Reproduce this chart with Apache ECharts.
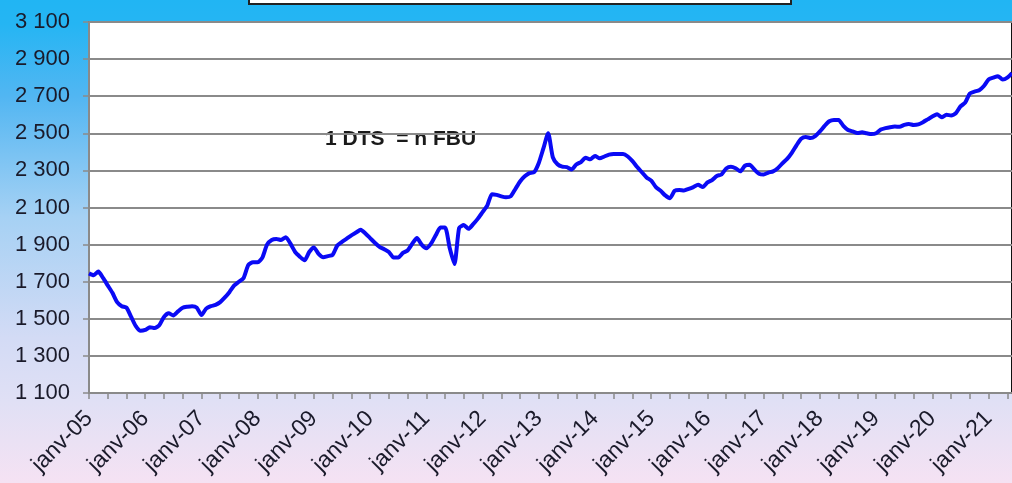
<!DOCTYPE html>
<html>
<head>
<meta charset="utf-8">
<script src="https://cdn.jsdelivr.net/npm/echarts@6/dist/echarts.min.js"></script>
<style>html,body{margin:0;padding:0;}#c{width:1012px;height:483px;}</style>
</head>
<body>
<div id="c"></div>
<script>
// Month abbreviations (French) and years used for the category axis
const monthNames = ['janv','févr','mars','avr','mai','juin','juil','août','sept','oct','nov','déc'];
const years = ['05','06','07','08','09','10','11','12','13','14','15','16','17','18','19','20','21'];
const monthCount = 198; // janv-05 .. juin-21

// 1 DTS = n FBU, monthly values
const rates2005_2008 = [
  1745,1735,1755,1720,1680,1640,1590,1568,1560,1510,1460,1435,
  1440,1455,1450,1465,1510,1530,1518,1540,1560,1565,1568,1560,
  1520,1555,1568,1575,1590,1615,1645,1680,1700,1720,1790,1805,
  1805,1830,1900,1925,1930,1925,1940,1905,1860,1835,1815,1860
];
const rates2009_2012 = [
  1885,1850,1832,1838,1845,1895,1915,1932,1950,1965,1980,1960,
  1935,1910,1888,1875,1860,1830,1830,1855,1868,1905,1935,1900,
  1880,1905,1950,1992,1992,1880,1795,1990,2005,1985,2010,2040,
  2075,2110,2172,2168,2160,2155,2160,2200,2240,2268,2285,2290
];
const rates2013_2016 = [
  2340,2420,2500,2370,2333,2320,2318,2305,2332,2345,2368,2360,
  2378,2365,2375,2385,2388,2388,2388,2375,2350,2318,2290,2262,
  2245,2210,2190,2165,2150,2190,2195,2192,2200,2210,2222,2210,
  2235,2248,2270,2278,2310,2320,2312,2295,2325,2330,2305,2282
];
const rates2017_2021 = [
  2278,2288,2295,2312,2338,2362,2395,2435,2470,2480,2475,2485,
  2510,2540,2565,2572,2572,2540,2518,2510,2502,2505,2500,2496,
  2500,2520,2528,2533,2536,2535,2545,2550,2545,2548,2560,2575,
  2590,2603,2586,2600,2596,2608,2645,2665,2715,2725,2732,2755,
  2790,2800,2808,2790,2800,2825
];

const yTicks = { min: 1100, max: 3100, step: 200 };
const annotation = '1 DTS  = n FBU';

const rates = [].concat(rates2005_2008, rates2009_2012, rates2013_2016, rates2017_2021);
const categories = [];
for (let i = 0; i < monthCount; i++) {
  categories.push(monthNames[i % 12] + '-' + years[Math.floor(i / 12)]);
}

const chart = echarts.init(document.getElementById('c'), null, { renderer: 'canvas' });
chart.setOption({
  animation: false,
  backgroundColor: {
    type: 'linear', x: 0, y: 0, x2: 0, y2: 1,
    colorStops: [
      { offset: 0, color: '#21b5f3' },
      { offset: 0.05, color: '#25b5f3' },
      { offset: 0.2, color: '#52b6f2' },
      { offset: 0.45, color: '#a6d1f4' },
      { offset: 0.7, color: '#d3dbf5' },
      { offset: 0.83, color: '#e0e0f5' },
      { offset: 1, color: '#f5e2f3' }
    ]
  },
  grid: {
    left: 89, right: 0, top: 22, bottom: 90,
    show: true, backgroundColor: '#ffffff', borderColor: '#111111', borderWidth: 2
  },
  graphic: [
    {
      type: 'rect', left: 248, top: -20,
      shape: { width: 542, height: 23 },
      style: { fill: '#ffffff', stroke: '#222222', lineWidth: 2 }
    },
    {
      type: 'text', left: 325, top: 129,
      style: { text: annotation, font: 'bold 21px "Liberation Sans", Arial, sans-serif', fill: '#1a1a1a' }
    }
  ],
  xAxis: {
    type: 'category',
    data: categories,
    boundaryGap: false,
    axisLine: { lineStyle: { color: '#8a8a8a', width: 2 } },
    axisTick: { interval: 3, length: 6, lineStyle: { color: '#8a8a8a', width: 1.5 } },
    axisLabel: {
      interval: 11, rotate: 45, margin: 22,
      fontFamily: '"Liberation Sans", Arial, sans-serif', fontSize: 23, color: '#1a1a2a'
    },
    splitLine: { show: false }
  },
  yAxis: {
    type: 'value',
    min: yTicks.min, max: yTicks.max, interval: yTicks.step,
    axisLine: { show: true, lineStyle: { color: '#8a8a8a', width: 2 } },
    axisTick: { show: true, length: 6, lineStyle: { color: '#8a8a8a', width: 1.5 } },
    axisLabel: {
      margin: 19,
      fontFamily: '"Liberation Sans", Arial, sans-serif', fontSize: 22, color: '#1a1a2a',
      formatter: v => String(v).replace(/\B(?=(\d{3})+(?!\d))/g, ' ')
    },
    splitLine: { lineStyle: { color: '#8a8a8a', width: 2 } }
  },
  series: [{
    type: 'line',
    data: rates,
    showSymbol: false,
    smooth: 0.2,
    lineStyle: { color: '#0a0af5', width: 4 }
  }]
});
</script>
</body>
</html>
